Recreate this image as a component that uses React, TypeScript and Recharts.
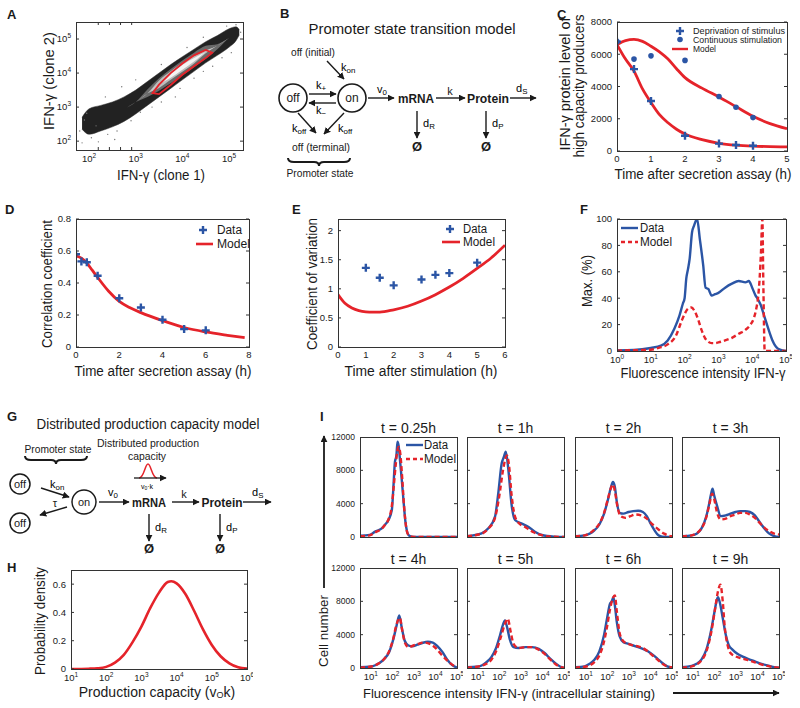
import React from 'react';
import { ComposedChart, Line, Area, Scatter, XAxis, YAxis } from 'recharts';

const FONT = '"Liberation Sans", Arial, Helvetica, sans-serif';
const BLUE = '#2b55a5';
const RED = '#e5232a';
const INK = '#1a1a1a';

// ---------- A: clone 1 vs clone 2 (log10 units) ----------
const aCloudX = [1.85, 2.0, 2.25, 2.5, 2.75, 3.0, 3.25, 3.5, 3.75, 4.0, 4.25, 4.5, 4.75, 5.0, 5.15, 5.22];
const aOuterLo = [2.35, 2.2, 2.3, 2.42, 2.58, 2.8, 3.05, 3.3, 3.55, 3.8, 4.05, 4.3, 4.52, 4.76, 4.95, 5.12];
const aOuterHi = [2.7, 2.95, 3.05, 3.15, 3.3, 3.5, 3.75, 4.0, 4.25, 4.48, 4.7, 4.92, 5.1, 5.3, 5.36, 5.28];
const aMidLo = [2.52, 2.58, 2.68, 2.78, 2.94, 3.15, 3.3, 3.48, 3.7, 3.93, 4.17, 4.42, 4.7, 5.03, 5.15, 5.2];
const aMidHi = [2.52, 2.58, 2.68, 2.78, 2.94, 3.15, 3.52, 3.85, 4.12, 4.37, 4.6, 4.8, 4.85, 5.03, 5.15, 5.2];
const aInnerLo = [2.52, 2.58, 2.68, 2.78, 2.94, 3.15, 3.4, 3.56, 3.8, 4.04, 4.28, 4.58, 4.8, 5.03, 5.15, 5.2];
const aInnerHi = [2.52, 2.58, 2.68, 2.78, 2.94, 3.15, 3.4, 3.78, 4.05, 4.3, 4.5, 4.66, 4.8, 5.03, 5.15, 5.2];
const aCoreLo = [2.52, 2.58, 2.68, 2.78, 2.94, 3.15, 3.4, 3.67, 3.86, 4.1, 4.34, 4.62, 4.8, 5.03, 5.15, 5.2];
const aCoreHi = [2.52, 2.58, 2.68, 2.78, 2.94, 3.15, 3.4, 3.67, 3.99, 4.24, 4.44, 4.62, 4.8, 5.03, 5.15, 5.2];
const aEllipseX = [3.36, 3.5, 3.75, 4.0, 4.25, 4.5, 4.64, 4.5, 4.25, 4.0, 3.75, 3.5];
const aEllipseY = [3.41, 3.38, 3.65, 3.95, 4.2, 4.44, 4.6, 4.68, 4.52, 4.28, 4.0, 3.66];
const aSpeckX = [1.8, 1.9, 2.05, 2.15, 1.95, 2.2, 2.4, 2.6, 2.35, 2.7, 2.9, 3.1, 3.35, 3.55, 3.0, 3.55, 3.95, 4.25, 4.45, 4.1, 4.65, 4.85, 5.05, 5.15, 4.95, 5.25, 3.85, 2.55, 4.45, 1.85];
const aSpeckY = [2.3, 2.62, 2.1, 2.45, 2.82, 1.98, 2.2, 2.3, 3.3, 3.6, 2.6, 2.85, 3.0, 3.15, 3.8, 4.25, 3.55, 3.85, 4.05, 4.75, 4.2, 4.45, 4.6, 5.42, 5.38, 5.2, 3.3, 2.05, 5.05, 1.95];

// ---------- C ----------
const cTimes = [0, 0.5, 1, 2, 3, 3.5, 4];
const cDeprivation = [6780, 5080, 3100, 950, 460, 370, 330];
const cContinuous = [6780, 5700, 5900, 5620, 3380, 2710, 2070];
const cModelT = [0, 0.25, 0.5, 0.75, 1, 1.25, 1.5, 1.75, 2, 2.5, 3, 3.5, 4, 4.5, 5];
const cModelUpper = [6600, 6850, 6920, 6800, 6500, 6150, 5700, 5100, 4550, 3900, 3350, 2750, 2150, 1700, 1380];
const cModelLower = [6600, 5700, 4950, 3850, 3000, 2250, 1750, 1350, 1050, 700, 480, 360, 300, 270, 255];

// ---------- D ----------
const dTimes = [0, 0.25, 0.5, 1, 2, 3, 4, 5, 6];
const dData = [0.58, 0.535, 0.53, 0.445, 0.305, 0.247, 0.17, 0.112, 0.104];
const dModelT = [0, 0.25, 0.5, 0.75, 1, 1.5, 2, 2.5, 3, 4, 5, 6, 7, 7.8];
const dModel = [0.57, 0.555, 0.525, 0.48, 0.435, 0.35, 0.285, 0.245, 0.215, 0.165, 0.122, 0.094, 0.073, 0.058];

// ---------- E ----------
const eTimes = [1, 1.5, 2, 3, 3.5, 4, 5];
const eData = [1.36, 1.19, 1.06, 1.16, 1.24, 1.27, 1.45];
const eModelT = [0, 0.25, 0.5, 0.75, 1, 1.25, 1.5, 2, 2.5, 3, 3.5, 4, 4.5, 5, 5.5, 6];
const eModel = [0.9, 0.75, 0.67, 0.625, 0.605, 0.6, 0.6, 0.64, 0.7, 0.79, 0.9, 1.03, 1.18, 1.35, 1.53, 1.75];

// ---------- F (log10 intensity) ----------
const fDataX = [0, 0.5, 1, 1.3, 1.5, 1.7, 1.85, 1.95, 2.0, 2.05, 2.1, 2.15, 2.22, 2.28, 2.37, 2.45, 2.55, 2.62, 2.7, 2.8, 2.9, 3.0, 3.2, 3.4, 3.6, 3.8, 3.9, 4.0, 4.1, 4.15, 4.25, 4.35, 4.5, 4.6, 4.75, 4.9, 5.0];
const fData = [0.5, 0.8, 2.3, 4, 8, 17, 27, 36, 40, 55, 62, 70, 90, 95, 100, 85, 65, 48, 47, 42, 43, 44, 48, 51, 53, 52, 53, 48, 42, 40, 35, 27, 15, 8, 2, 0.5, 0];
const fModelX = [0, 0.5, 1, 1.25, 1.5, 1.75, 1.9, 2.0, 2.1, 2.2, 2.3, 2.4, 2.5, 2.6, 2.7, 2.8, 2.9, 3.0, 3.2, 3.4, 3.6, 3.8, 3.95, 4.05, 4.12, 4.18, 4.22, 4.26, 4.3, 4.33, 4.37, 4.5, 4.75, 5.0];
const fModel = [0.3, 0.6, 1, 2.5, 5, 12, 22, 28, 32, 33, 30, 24, 16, 10, 7, 6, 6, 6.5, 8, 10, 13, 16, 20, 25, 32, 42, 55, 75, 100, 50, 0, 0, 0, 0];

// ---------- H ----------
const hX = [1, 1.5, 1.75, 2, 2.25, 2.5, 2.75, 3, 3.25, 3.5, 3.75, 3.85, 4, 4.25, 4.5, 4.75, 5, 5.25, 5.5, 5.75, 6];
const hY = [0, 0.002, 0.005, 0.015, 0.045, 0.1, 0.19, 0.3, 0.43, 0.54, 0.615, 0.62, 0.605, 0.53, 0.41, 0.28, 0.17, 0.09, 0.04, 0.012, 0.003];

// ---------- I: [log10 intensity, cell number] ----------
const iTitles = ['t = 0.25h', 't = 1h', 't = 2h', 't = 3h', 't = 4h', 't = 5h', 't = 6h', 't = 9h'];
const i025Data = [[0.5, 150], [0.95, 250], [1.2, 640], [1.51, 1040], [1.67, 1500], [1.82, 2040], [1.98, 3300], [2.05, 6000], [2.12, 9000], [2.19, 9800], [2.24, 11450], [2.29, 11000], [2.37, 8800], [2.44, 6800], [2.53, 4000], [2.6, 2000], [2.68, 700], [2.75, 240], [2.89, 50], [3.2, 0], [5, 0]];
const i025Model = [[0.5, 100], [0.95, 200], [1.2, 550], [1.51, 1000], [1.67, 1500], [1.82, 2100], [1.98, 3800], [2.08, 6500], [2.17, 9000], [2.23, 10300], [2.3, 10800], [2.37, 10000], [2.46, 7000], [2.55, 3500], [2.64, 1200], [2.73, 300], [2.89, 50], [3.2, 0], [5, 0]];
const i1Data = [[0.5, 100], [1.18, 440], [1.49, 1040], [1.8, 2440], [1.95, 5240], [2.11, 8840], [2.21, 9600], [2.3, 10240], [2.42, 8040], [2.57, 3840], [2.73, 2040], [3.02, 1640], [3.34, 1240], [3.65, 640], [3.97, 240], [4.55, 40], [5, 0]];
const i1Model = [[0.5, 100], [1.18, 400], [1.49, 1000], [1.8, 2300], [1.99, 4800], [2.17, 8000], [2.28, 9400], [2.35, 9800], [2.44, 8800], [2.57, 5000], [2.71, 2600], [2.89, 1700], [3.2, 1200], [3.56, 600], [3.92, 250], [4.33, 60], [5, 0]];
const i2Data = [[0.5, 100], [0.95, 200], [1.18, 400], [1.4, 800], [1.63, 1500], [1.85, 2800], [2.03, 4500], [2.17, 6000], [2.26, 6600], [2.35, 6000], [2.44, 4200], [2.57, 2900], [2.75, 2800], [2.98, 3000], [3.2, 3100], [3.43, 3150], [3.65, 3000], [3.83, 2500], [4.01, 1600], [4.19, 800], [4.37, 200], [4.55, 30], [5, 0]];
const i2Model = [[0.5, 100], [0.95, 200], [1.4, 900], [1.63, 1600], [1.85, 2900], [2.03, 4600], [2.17, 5900], [2.26, 6300], [2.35, 5500], [2.48, 3500], [2.62, 2500], [2.84, 2300], [3.07, 2500], [3.29, 2700], [3.56, 2600], [3.83, 2200], [4.1, 1500], [4.37, 900], [4.64, 400], [4.87, 150], [5, 80]];
const i3Data = [[0.5, 100], [0.95, 200], [1.18, 400], [1.4, 1000], [1.63, 2500], [1.76, 4000], [1.85, 5200], [1.92, 5800], [1.99, 5000], [2.12, 3800], [2.3, 2500], [2.53, 2600], [2.75, 2800], [2.98, 3000], [3.2, 3100], [3.43, 3100], [3.65, 3000], [3.88, 2600], [4.1, 1800], [4.33, 1000], [4.55, 400], [4.78, 100], [5, 0]];
const i3Model = [[0.5, 100], [0.95, 200], [1.4, 1000], [1.63, 2400], [1.76, 3800], [1.9, 5200], [1.99, 4600], [2.12, 3000], [2.3, 2100], [2.53, 2200], [2.75, 2500], [2.98, 2700], [3.2, 2900], [3.43, 2900], [3.65, 2700], [3.88, 2300], [4.1, 1700], [4.33, 1100], [4.55, 700], [4.78, 400], [5, 300]];
const i4Data = [[0.5, 100], [0.95, 150], [1.18, 300], [1.4, 600], [1.63, 1100], [1.85, 1900], [2.05, 3500], [2.19, 5000], [2.32, 6300], [2.44, 4800], [2.57, 3300], [2.75, 2700], [2.93, 2600], [3.16, 2800], [3.38, 3000], [3.65, 3150], [3.88, 3050], [4.1, 2600], [4.33, 1900], [4.55, 1000], [4.78, 350], [5, 50]];
const i4Model = [[0.5, 50], [0.95, 150], [1.4, 600], [1.63, 1100], [1.85, 2000], [2.05, 3600], [2.19, 5200], [2.35, 6000], [2.46, 4500], [2.59, 3000], [2.75, 2500], [2.98, 2700], [3.2, 2900], [3.47, 3050], [3.74, 2900], [4.01, 2400], [4.28, 1600], [4.55, 900], [4.78, 400], [5, 200]];
const i5Data = [[0.5, 100], [0.95, 150], [1.18, 300], [1.4, 700], [1.63, 1300], [1.85, 2400], [2.03, 3900], [2.17, 5200], [2.26, 5700], [2.35, 5000], [2.48, 3500], [2.66, 2500], [2.89, 2400], [3.2, 2500], [3.52, 2500], [3.83, 2300], [4.1, 1800], [4.37, 1100], [4.64, 500], [4.87, 100], [5, 0]];
const i5Model = [[0.5, 50], [0.95, 150], [1.4, 500], [1.63, 1000], [1.85, 2000], [2.08, 3800], [2.26, 5300], [2.39, 5900], [2.53, 4300], [2.66, 2900], [2.89, 2400], [3.2, 2500], [3.52, 2500], [3.83, 2200], [4.1, 1700], [4.37, 1000], [4.64, 400], [4.87, 100], [5, 50]];
const i6Data = [[0.5, 100], [0.95, 200], [1.18, 500], [1.4, 1000], [1.63, 2000], [1.85, 4000], [1.99, 6000], [2.12, 7700], [2.21, 8000], [2.28, 8500], [2.35, 7500], [2.44, 5500], [2.57, 3800], [2.75, 3100], [2.98, 2900], [3.2, 2700], [3.43, 2500], [3.65, 2300], [3.88, 2000], [4.1, 1600], [4.33, 1100], [4.55, 600], [4.78, 200], [5, 50]];
const i6Model = [[0.5, 50], [0.95, 150], [1.4, 700], [1.63, 1500], [1.85, 3200], [1.99, 5000], [2.12, 7000], [2.26, 8400], [2.35, 8700], [2.44, 6800], [2.57, 4200], [2.75, 3200], [2.98, 2900], [3.2, 2700], [3.43, 2600], [3.65, 2400], [3.88, 2000], [4.1, 1500], [4.33, 1000], [4.55, 500], [4.78, 200], [5, 100]];
const i9Data = [[0.5, 100], [0.95, 250], [1.18, 500], [1.4, 1000], [1.63, 2200], [1.85, 4500], [1.99, 6500], [2.1, 8000], [2.17, 8500], [2.26, 7800], [2.39, 6000], [2.53, 4000], [2.66, 2800], [2.84, 2200], [3.07, 1700], [3.29, 1400], [3.56, 1100], [3.88, 800], [4.19, 500], [4.55, 250], [4.78, 100], [5, 50]];
const i9Model = [[0.5, 50], [0.95, 200], [1.4, 900], [1.63, 2000], [1.85, 4200], [2.03, 7000], [2.17, 9200], [2.28, 10000], [2.39, 8000], [2.48, 5000], [2.62, 2700], [2.75, 1800], [2.98, 1400], [3.2, 1200], [3.47, 1000], [3.74, 800], [4.1, 500], [4.46, 250], [4.78, 100], [5, 50]];
const iData = [i025Data, i1Data, i2Data, i3Data, i4Data, i5Data, i6Data, i9Data];
const iModel = [i025Model, i1Model, i2Model, i3Model, i4Model, i5Model, i6Model, i9Model];

const zip = (xs: number[], ys: number[]) => xs.map((x, i) => ({ x, y: ys[i] }));
const rows = (ps: number[][]) => ps.map(([x, y]) => ({ x, y }));

type Box = { x: number; y: number; w: number; h: number };
const PL = 44, PT = 6, PR = 6, PB = 24;

const boxA: Box = { x: 76, y: 22, w: 167, h: 128 };
const boxC: Box = { x: 617, y: 22, w: 170, h: 129 };
const boxD: Box = { x: 76, y: 219, w: 173, h: 128 };
const boxE: Box = { x: 338, y: 219, w: 167, h: 128 };
const boxF: Box = { x: 617, y: 219, w: 169, h: 132 };
const boxH: Box = { x: 71, y: 570, w: 176, h: 99 };
const iCols = [360, 467, 575, 682];
const iRows = [437, 568];
const iBoxes: Box[] = iTitles.map((_, k) => ({ x: iCols[k % 4], y: iRows[Math.floor(k / 4)], w: 97, h: 100 }));

const tickStyle = { fill: INK, fontSize: 9.5, fontFamily: FONT };

const PowTickX = (p: any) => (
  <text x={p.x} y={p.y} textAnchor="middle" fontSize={9.5} fontFamily={FONT} fill={INK} dy="0.85em">
    <tspan>10</tspan>
    <tspan fontSize={6.5} dy={-4}>{p.payload.value}</tspan>
  </text>
);
const PowTickY = (p: any) => (
  <text x={p.x} y={p.y} textAnchor="end" fontSize={9.5} fontFamily={FONT} fill={INK} dy="0.35em">
    <tspan>10</tspan>
    <tspan fontSize={6.5} dy={-4}>{p.payload.value}</tspan>
  </text>
);
const NoTick = () => <g />;

const PlusShape = (p: any) => (
  <path d={`M${p.cx - 4},${p.cy}H${p.cx + 4}M${p.cx},${p.cy - 4}V${p.cy + 4}`} stroke={BLUE} strokeWidth={2.4} />
);
const DotShape = (p: any) => <circle cx={p.cx} cy={p.cy} r={2.8} fill={BLUE} />;
const SpeckShape = (p: any) => <circle cx={p.cx} cy={p.cy} r={0.7} fill="#777" />;

function xAx(domain: number[], ticks: number[], tick: any = tickStyle) {
  return (
    <XAxis dataKey="x" type="number" domain={domain} ticks={ticks} allowDataOverflow interval={0}
      height={PB} axisLine={false} tickLine={false} tickSize={2} tickMargin={2} tick={tick} />
  );
}
function yAx(domain: number[], ticks: number[], tick: any = tickStyle) {
  return (
    <YAxis type="number" domain={domain} ticks={ticks} allowDataOverflow interval={0}
      width={PL} axisLine={false} tickLine={false} tickSize={3} tickMargin={2} tick={tick} />
  );
}
// inward tick marks on all four sides, like the original's boxed axes
function inner(xd: number[], xt: number[], yd: number[], yt: number[]) {
  const common = {
    type: 'number' as const, allowDataOverflow: true, mirror: true, tick: NoTick, axisLine: false,
    tickSize: 3, tickLine: { stroke: '#333', strokeWidth: 1 }, interval: 0 as const,
  };
  return [
    <XAxis key="xb" xAxisId="xb" orientation="bottom" height={1} domain={xd} ticks={xt} {...common} />,
    <XAxis key="xt" xAxisId="xt" orientation="top" height={1} domain={xd} ticks={xt} {...common} />,
    <YAxis key="yl" yAxisId="yl" orientation="left" width={1} domain={yd} ticks={yt} {...common} />,
    <YAxis key="yr" yAxisId="yr" orientation="right" width={1} domain={yd} ticks={yt} {...common} />,
  ];
}

function Plot({ box, data, children }: { box: Box; data?: any[]; children: React.ReactNode }) {
  return (
    <div style={{ position: 'absolute', left: box.x - PL, top: box.y - PT }}>
      <ComposedChart width={box.w + PL + PR} height={box.h + PT + PB} data={data}
        margin={{ top: PT, right: PR, left: 0, bottom: 0 }}>
        {children}
      </ComposedChart>
    </div>
  );
}

const cloudRows = aCloudX.map((x, i) => ({
  x,
  outer: [aOuterLo[i], aOuterHi[i]],
  mid: [aMidLo[i], aMidHi[i]],
  inner: [aInnerLo[i], aInnerHi[i]],
  core: [aCoreLo[i], aCoreHi[i]],
}));

function PanelA() {
  return (
    <Plot box={boxA} data={cloudRows}>
      {xAx([1.72, 5.3], [2, 3, 4, 5], PowTickX)}
      {yAx([1.74, 5.5], [2, 3, 4, 5], PowTickY)}
      {inner([1.72, 5.3], [2, 3, 4, 5], [1.74, 5.5], [2, 3, 4, 5])}
      <Scatter data={zip(aSpeckX, aSpeckY)} dataKey="y" shape={SpeckShape} isAnimationActive={false} />
      <Area dataKey="outer" type="monotone" stroke="#333" strokeWidth={0.5} fill="#222" fillOpacity={1} isAnimationActive={false} dot={false} activeDot={false} />
      <Area dataKey="mid" type="monotone" stroke="none" fill="#6a6a6a" fillOpacity={1} isAnimationActive={false} dot={false} activeDot={false} />
      <Area dataKey="inner" type="monotone" stroke="none" fill="#bdbdbd" fillOpacity={1} isAnimationActive={false} dot={false} activeDot={false} />
      <Area dataKey="core" type="monotone" stroke="none" fill="#f4f4f4" fillOpacity={1} isAnimationActive={false} dot={false} activeDot={false} />
      <Line data={zip(aEllipseX, aEllipseY)} dataKey="y" type="linearClosed" stroke={RED} strokeWidth={1.8} dot={false} activeDot={false} isAnimationActive={false} />
    </Plot>
  );
}

function PanelC() {
  return (
    <Plot box={boxC}>
      {xAx([0, 5], [0, 1, 2, 3, 4, 5])}
      {yAx([0, 8000], [0, 2000, 4000, 6000, 8000])}
      {inner([0, 5], [0, 1, 2, 3, 4, 5], [0, 8000], [0, 2000, 4000, 6000, 8000])}
      <Line data={zip(cModelT, cModelUpper)} dataKey="y" type="monotone" stroke={RED} strokeWidth={2.8} dot={false} activeDot={false} isAnimationActive={false} />
      <Line data={zip(cModelT, cModelLower)} dataKey="y" type="monotone" stroke={RED} strokeWidth={2.8} dot={false} activeDot={false} isAnimationActive={false} />
      <Scatter data={zip(cTimes, cContinuous)} dataKey="y" shape={DotShape} isAnimationActive={false} />
      <Scatter data={zip(cTimes, cDeprivation)} dataKey="y" shape={PlusShape} isAnimationActive={false} />
    </Plot>
  );
}

function PanelD() {
  return (
    <Plot box={boxD}>
      {xAx([0, 8], [0, 2, 4, 6, 8])}
      {yAx([0, 0.8], [0, 0.2, 0.4, 0.6, 0.8])}
      {inner([0, 8], [0, 2, 4, 6, 8], [0, 0.8], [0, 0.2, 0.4, 0.6, 0.8])}
      <Line data={zip(dModelT, dModel)} dataKey="y" type="monotone" stroke={RED} strokeWidth={2.8} dot={false} activeDot={false} isAnimationActive={false} />
      <Scatter data={zip(dTimes, dData)} dataKey="y" shape={PlusShape} isAnimationActive={false} />
    </Plot>
  );
}

function PanelE() {
  return (
    <Plot box={boxE}>
      {xAx([0, 6], [0, 1, 2, 3, 4, 5, 6])}
      {yAx([0, 2.2], [0, 0.5, 1, 1.5, 2])}
      {inner([0, 6], [0, 1, 2, 3, 4, 5, 6], [0, 2.2], [0, 0.5, 1, 1.5, 2])}
      <Line data={zip(eModelT, eModel)} dataKey="y" type="monotone" stroke={RED} strokeWidth={2.8} dot={false} activeDot={false} isAnimationActive={false} />
      <Scatter data={zip(eTimes, eData)} dataKey="y" shape={PlusShape} isAnimationActive={false} />
    </Plot>
  );
}

function PanelF() {
  return (
    <Plot box={boxF}>
      {xAx([0, 5], [0, 1, 2, 3, 4, 5], PowTickX)}
      {yAx([0, 100], [0, 20, 40, 60, 80, 100])}
      {inner([0, 5], [0, 1, 2, 3, 4, 5], [0, 100], [0, 20, 40, 60, 80, 100])}
      <Line data={zip(fDataX, fData)} dataKey="y" type="monotone" stroke={BLUE} strokeWidth={2.4} dot={false} activeDot={false} isAnimationActive={false} />
      <Line data={zip(fModelX, fModel)} dataKey="y" type="monotone" stroke={RED} strokeWidth={2.4} strokeDasharray="5 3" dot={false} activeDot={false} isAnimationActive={false} />
    </Plot>
  );
}

function PanelH() {
  return (
    <Plot box={boxH}>
      {xAx([1, 6], [1, 2, 3, 4, 5, 6], PowTickX)}
      {yAx([0, 0.7], [0, 0.2, 0.4, 0.6])}
      {inner([1, 6], [1, 2, 3, 4, 5, 6], [0, 0.7], [0, 0.2, 0.4, 0.6])}
      <Line data={zip(hX, hY)} dataKey="y" type="monotone" stroke={RED} strokeWidth={2.6} dot={false} activeDot={false} isAnimationActive={false} />
    </Plot>
  );
}

const iTickY = { fill: INK, fontSize: 8.5, fontFamily: FONT };

function PanelI({ k }: { k: number }) {
  const showY = k % 4 === 0;
  const showX = k >= 4;
  return (
    <Plot box={iBoxes[k]}>
      {xAx([0.5, 5], [1, 2, 3, 4, 5], showX ? PowTickX : false)}
      {yAx([0, 12000], [0, 4000, 8000, 12000], showY ? iTickY : false)}
      {inner([0.5, 5], [1, 2, 3, 4], [0, 12000], [4000, 8000])}
      <Line data={rows(iData[k])} dataKey="y" type="monotone" stroke={BLUE} strokeWidth={2.4} dot={false} activeDot={false} isAnimationActive={false} />
      <Line data={rows(iModel[k])} dataKey="y" type="monotone" stroke={RED} strokeWidth={2.4} strokeDasharray="5 3" dot={false} activeDot={false} isAnimationActive={false} />
    </Plot>
  );
}

// ---------- overlay: frames, labels, legends, diagrams ----------
function Txt({ x, y, s = 12, w, anchor = 'middle', bold, rot, fill = INK, children }: any) {
  return (
    <text x={x} y={y} fontSize={s} fontFamily={FONT} fontWeight={bold ? 'bold' : 'normal'} textAnchor={anchor} fill={fill}
      textLength={w} lengthAdjust={w ? 'spacingAndGlyphs' : undefined} dominantBaseline="central"
      transform={rot ? `rotate(-90 ${x} ${y})` : undefined}>{children}</text>
  );
}
function Sub({ x, y, base, sub, s = 11, anchor = 'start' }: any) {
  return (
    <text x={x} y={y} fontSize={s} fontFamily={FONT} fill="#000" textAnchor={anchor} dominantBaseline="central">
      <tspan fill="#000">{base}</tspan>
      <tspan fill="#000" fontSize={s * 0.72} dy={3}>{sub}</tspan>
    </text>
  );
}
function Arrow({ x1, y1, x2, y2, w = 1.4 }: any) {
  return <line x1={x1} y1={y1} x2={x2} y2={y2} stroke={INK} strokeWidth={w} markerEnd="url(#ah)" />;
}
function Brace({ x1, x2, y }: any) {
  const m = (x1 + x2) / 2;
  return (
    <path d={`M${x1},${y} Q${x1},${y + 4} ${x1 + 6},${y + 4} H${m - 5} Q${m},${y + 4} ${m},${y + 8} Q${m},${y + 4} ${m + 5},${y + 4} H${x2 - 6} Q${x2},${y + 4} ${x2},${y}`}
      fill="none" stroke={INK} strokeWidth={2} />
  );
}
function Frame({ b }: { b: Box }) {
  return <rect x={b.x + 0.5} y={b.y + 0.5} width={b.w} height={b.h} fill="none" stroke="#333" strokeWidth={1} />;
}
const plus = (x: number, y: number) => (
  <path d={`M${x - 4},${y}H${x + 4}M${x},${y - 4}V${y + 4}`} stroke={BLUE} strokeWidth={2.4} />
);

function Overlay() {
  return (
    <svg width={800} height={708} style={{ position: 'absolute', left: 0, top: 0, pointerEvents: 'none' }}>
      <defs>
        <marker id="ah" viewBox="0 0 10 10" refX="9" refY="5" markerWidth="7" markerHeight="7" markerUnits="userSpaceOnUse" orient="auto">
          <path d="M0,0 L10,5 L0,10 z" fill={INK} />
        </marker>
      </defs>

      {[boxA, boxC, boxD, boxE, boxF, boxH, ...iBoxes].map((b, i) => <Frame key={i} b={b} />)}

      {/* panel letters */}
      <Txt x={7} y={14} s={13} bold anchor="start">A</Txt>
      <Txt x={280} y={13.5} s={13} bold anchor="start">B</Txt>
      <Txt x={557} y={14} s={13} bold anchor="start">C</Txt>
      <Txt x={5} y={209} s={13} bold anchor="start">D</Txt>
      <Txt x={292} y={209} s={13} bold anchor="start">E</Txt>
      <Txt x={580} y={209} s={13} bold anchor="start">F</Txt>
      <Txt x={7} y={416} s={13} bold anchor="start">G</Txt>
      <Txt x={7} y={567.5} s={13} bold anchor="start">H</Txt>
      <Txt x={320} y={416.5} s={13} bold anchor="start">I</Txt>

      {/* A labels */}
      <Txt x={49} y={81} s={14} w={98} rot>IFN-γ (clone 2)</Txt>
      <Txt x={161} y={175} s={14} w={88}>IFN-γ (clone 1)</Txt>

      {/* B diagram */}
      <Txt x={412} y={28} s={15} w={207}>Promoter state transition model</Txt>
      <Txt x={313} y={52} s={11} w={44}>off (initial)</Txt>
      <Arrow x1={327} y1={61} x2={344} y2={79} />
      <Sub x={341} y={67} base="k" sub="on" />
      <circle cx={293} cy={98} r={14} fill="none" stroke={INK} strokeWidth={1.6} />
      <Txt x={293} y={98} s={12}>off</Txt>
      <circle cx={352} cy={98} r={14} fill="none" stroke={INK} strokeWidth={1.6} />
      <Txt x={352} y={98} s={12}>on</Txt>
      <Arrow x1={309} y1={94} x2={336} y2={94} />
      <Sub x={316} y={85} base="k" sub="+" />
      <Arrow x1={336} y1={103} x2={309} y2={103} />
      <Sub x={316} y={110} base="k" sub="−" />
      <Arrow x1={298} y1={113} x2={316} y2={133} />
      <Sub x={292} y={128} base="k" sub="off" />
      <Arrow x1={344} y1={113} x2={324} y2={134} />
      <Sub x={338} y={128} base="k" sub="off" />
      <Txt x={321} y={147} s={11} w={58}>off (terminal)</Txt>
      <Brace x1={288} x2={350} y={158} />
      <Txt x={320} y={173} s={11} w={67}>Promoter state</Txt>
      <Arrow x1={368} y1={98} x2={394} y2={98} />
      <Sub x={377} y={89} base="v" sub="0" />
      <Txt x={416} y={98} s={13} bold w={36}>mRNA</Txt>
      <Arrow x1={436} y1={98} x2={465} y2={98} />
      <Txt x={450} y={91} s={11}>k</Txt>
      <Txt x={488} y={98} s={13} bold w={42}>Protein</Txt>
      <Arrow x1={510} y1={98} x2={536} y2={98} />
      <Sub x={516} y={88} base="d" sub="S" />
      <Arrow x1={417} y1={111} x2={417} y2={138} />
      <Sub x={423} y={123} base="d" sub="R" />
      <Txt x={417} y={146} s={13} bold>Ø</Txt>
      <Arrow x1={486} y1={111} x2={486} y2={138} />
      <Sub x={492} y={123} base="d" sub="P" />
      <Txt x={486} y={146} s={13} bold>Ø</Txt>

      {/* C labels + legend */}
      <Txt x={565} y={84} s={14} w={133} rot>IFN-γ protein level of</Txt>
      <Txt x={579} y={86} s={14} w={143} rot>high capacity producers</Txt>
      <Txt x={703} y={174} s={14} w={177}>Time after secretion assay (h)</Txt>
      {plus(680, 31)}
      <Txt x={693} y={31} s={9} w={92} anchor="start">Deprivation of stimulus</Txt>
      <circle cx={680} cy={39.5} r={2.8} fill={BLUE} />
      <Txt x={693} y={39.5} s={9} w={89} anchor="start">Continuous stimulation</Txt>
      <line x1={672} y1={49} x2={688} y2={49} stroke={RED} strokeWidth={2.4} />
      <Txt x={693} y={49} s={9} w={23} anchor="start">Model</Txt>

      {/* D */}
      <Txt x={47} y={284} s={14} w={128} rot>Correlation coefficient</Txt>
      <Txt x={163} y={371} s={14} w={177}>Time after secretion assay (h)</Txt>
      {plus(203, 230)}
      <Txt x={217} y={230} s={12} w={25} anchor="start">Data</Txt>
      <line x1={196} y1={244} x2={213} y2={244} stroke={RED} strokeWidth={2.6} />
      <Txt x={217} y={244} s={12} w={33} anchor="start">Model</Txt>

      {/* E */}
      <Txt x={312} y={284} s={14} w={132} rot>Coefficient of variation</Txt>
      <Txt x={421} y={371} s={14} w={153}>Time after stimulation (h)</Txt>
      {plus(450, 229)}
      <Txt x={463} y={229} s={12} w={24} anchor="start">Data</Txt>
      <line x1={442} y1={242} x2={460} y2={242} stroke={RED} strokeWidth={2.6} />
      <Txt x={463} y={242} s={12} w={32} anchor="start">Model</Txt>

      {/* F */}
      <Txt x={587} y={281} s={14} w={52} rot>Max. (%)</Txt>
      <Txt x={703} y={373} s={14} w={165}>Fluorescence intensity IFN-γ</Txt>
      <line x1={621} y1={228} x2={638} y2={228} stroke={BLUE} strokeWidth={2.4} />
      <Txt x={640} y={228} s={12} w={24} anchor="start">Data</Txt>
      <line x1={621} y1={242} x2={638} y2={242} stroke={RED} strokeWidth={2.4} strokeDasharray="4 3" />
      <Txt x={640} y={242} s={12} w={32} anchor="start">Model</Txt>

      {/* G diagram */}
      <Txt x={148} y={424} s={14} w={223}>Distributed production capacity model</Txt>
      <Txt x={58} y={449} s={11} w={67}>Promoter state</Txt>
      <Brace x1={25} x2={87} y={456} />
      <Txt x={148} y={443} s={11} w={102}>Distributed production</Txt>
      <Txt x={147} y={456} s={11} w={38}>capacity</Txt>
      <path d="M139,478 C144,478 145,464 148,464 C151,464 152,478 157,478" fill="none" stroke={RED} strokeWidth={1.5} />
      <Arrow x1={134} y1={478} x2={166} y2={478} w={1.3} />
      <text x={141} y={486} fontSize={7} fontFamily={FONT} fill="#000" dominantBaseline="central">
        <tspan>v</tspan><tspan fontSize={5} dy={2}>0</tspan><tspan dy={-2}>·k</tspan>
      </text>
      <circle cx={20} cy={484} r={10} fill="none" stroke={INK} strokeWidth={1.5} />
      <Txt x={20} y={484} s={11}>off</Txt>
      <circle cx={84} cy={502} r={12} fill="none" stroke={INK} strokeWidth={1.5} />
      <Txt x={84} y={502} s={11}>on</Txt>
      <circle cx={20} cy={523} r={10} fill="none" stroke={INK} strokeWidth={1.5} />
      <Txt x={20} y={523} s={11}>off</Txt>
      <Arrow x1={41} y1={488} x2={69} y2={497} />
      <Sub x={50} y={484} base="k" sub="on" />
      <Arrow x1={67} y1={507} x2={40} y2={515} />
      <Txt x={55} y={503} s={11}>τ</Txt>
      <Arrow x1={99} y1={502} x2={129} y2={502} />
      <Sub x={108} y={492} base="v" sub="0" />
      <Txt x={149} y={502} s={13} bold w={34}>mRNA</Txt>
      <Arrow x1={172} y1={502} x2={199} y2={502} />
      <Txt x={184} y={494} s={11}>k</Txt>
      <Txt x={222} y={502} s={13} bold w={41}>Protein</Txt>
      <Arrow x1={243} y1={502} x2={271} y2={502} />
      <Sub x={252} y={492} base="d" sub="S" />
      <Arrow x1={149} y1={514} x2={149} y2={541} />
      <Sub x={155} y={527} base="d" sub="R" />
      <Txt x={149} y={548} s={13} bold>Ø</Txt>
      <Arrow x1={220} y1={514} x2={220} y2={541} />
      <Sub x={226} y={527} base="d" sub="P" />
      <Txt x={220} y={548} s={13} bold>Ø</Txt>

      {/* H */}
      <Txt x={40} y={621} s={14} w={108} rot>Probability density</Txt>
      <text x={157} y={692} fontSize={14} fontFamily={FONT} fill={INK} textAnchor="middle" dominantBaseline="central">
        <tspan>Production capacity (v</tspan><tspan fontSize={9} dy={3}>O</tspan><tspan dy={-3}>k)</tspan>
      </text>

      {/* I */}
      {iBoxes.map((b, k) => (
        <Txt key={k} x={b.x + b.w / 2} y={k < 4 ? 428 : 559} s={14}>{iTitles[k]}</Txt>
      ))}
      <line x1={406} y1={445} x2={423} y2={445} stroke={BLUE} strokeWidth={2.4} />
      <Txt x={424} y={445} s={12} w={24} anchor="start">Data</Txt>
      <line x1={406} y1={459} x2={423} y2={459} stroke={RED} strokeWidth={2.4} strokeDasharray="4 3" />
      <Txt x={424} y={459} s={12} w={32} anchor="start">Model</Txt>
      <Arrow x1={324} y1={588} x2={324} y2={436} w={1.8} />
      <Txt x={323} y={631} s={13} w={72} rot>Cell number</Txt>
      <Txt x={509} y={693} s={13} w={292}>Fluorescence intensity IFN-γ (intracellular staining)</Txt>
      <Arrow x1={673} y1={693} x2={779} y2={693} w={1.8} />
    </svg>
  );
}

export default function App() {
  return (
    <div style={{ position: 'fixed', left: 0, top: 0, width: 800, height: 708, background: '#fff', overflow: 'hidden', fontFamily: FONT }}>
      <PanelA />
      <PanelC />
      <PanelD />
      <PanelE />
      <PanelF />
      <PanelH />
      {iTitles.map((_, k) => <PanelI key={k} k={k} />)}
      <Overlay />
    </div>
  );
}
